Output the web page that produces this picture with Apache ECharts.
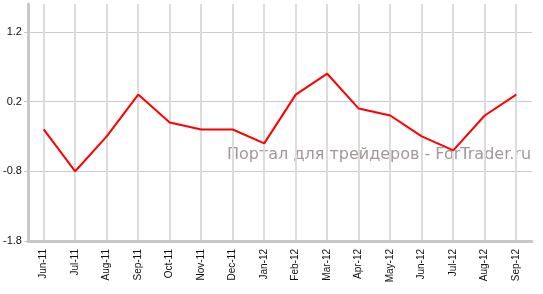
<!DOCTYPE html>
<html><head><meta charset="utf-8">
<script src="https://cdn.jsdelivr.net/npm/echarts@6/dist/echarts.min.js"></script>
<style>html,body{margin:0;padding:0;background:#fff}#c{width:543px;height:294px}</style>
</head><body><div id="c"></div>
<script>
const categories = ['Jun-11','Jul-11','Aug-11','Sep-11','Oct-11','Nov-11','Dec-11','Jan-12','Feb-12','Mar-12','Apr-12','May-12','Jun-12','Jul-12','Aug-12','Sep-12'];
const values = [-0.2,-0.8,-0.3,0.3,-0.1,-0.2,-0.2,-0.4,0.3,0.6,0.1,0.0,-0.3,-0.5,0.0,0.3];
const yTicks = [-1.8,-0.8,0.2,1.2];
const watermark = 'Портал для трейдеров - ForTrader.ru';

const chart = echarts.init(document.getElementById('c'));
chart.setOption({
  animation:false,
  grid:{left:26,right:11,top:4,bottom:53},
  xAxis:{type:'category',data:categories,boundaryGap:true,
    axisLine:{onZero:false,lineStyle:{color:'#c8c8c8',width:3}},
    axisTick:{alignWithLabel:true,length:5,lineStyle:{color:'#dcdcdc',width:2}},
    axisLabel:{rotate:90,interval:0,fontFamily:'Liberation Sans',fontSize:10,color:'#111',margin:8},
    splitLine:{show:true,alignWithLabel:true,lineStyle:{color:'#dcdcdc',width:2}}
  },
  yAxis:{type:'value',min:-1.8,max:1.6,
    axisLine:{show:true,onZero:false,lineStyle:{color:'#c8c8c8',width:3}},
    axisTick:{show:true,length:4,customValues:yTicks,lineStyle:{color:'#c8c8c8'}},
    axisLabel:{customValues:yTicks,fontFamily:'Liberation Sans',fontSize:11,color:'#111',margin:6,
      formatter:v=>(Math.round(v*10)/10).toFixed(1)},
    splitLine:{show:true,lineStyle:{color:'#cccccc',width:1}}
  },
  graphic:[{type:'text',left:227,top:147,style:{text:watermark,fontFamily:'DejaVu Sans',fontSize:16,fill:'#a39898'}}],
  series:[{type:'line',data:values,symbol:'none',lineStyle:{color:'#ff0000',width:2}}]
});
</script></body></html>
